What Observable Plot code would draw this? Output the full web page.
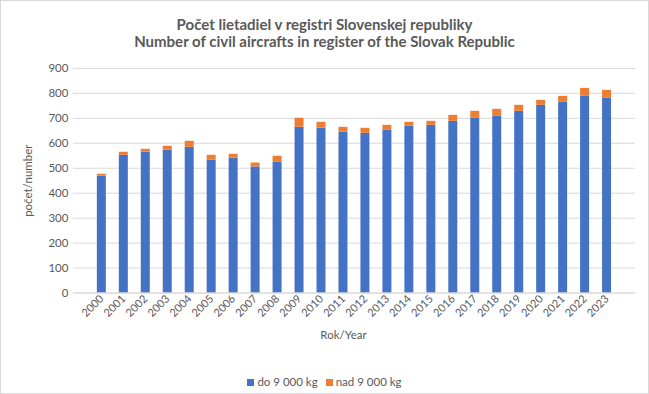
<!DOCTYPE html>
<html>
<head>
<meta charset="utf-8">
<script src="https://cdn.jsdelivr.net/npm/d3@7"></script>
<script src="https://cdn.jsdelivr.net/npm/@observablehq/plot@0.6"></script>
<style>
  body { margin: 0; background: #fff; }
  #wrap { position: relative; width: 649px; height: 394px; box-sizing: border-box; border: 1px solid #d9d9d9; font-family: Lato, "Open Sans", sans-serif; overflow: hidden; }
  #chart { position: absolute; left: -1px; top: -1px; }
  .title { position: absolute; left: -1px; width: 649px; text-align: center; font-weight: bold; font-size: 15px; line-height: 18px; color: #595959; }
  #legend { position: absolute; top: 374px; left: -1px; width: 649px; text-align: center; font-size: 11.5px; color: #595959; }
  #legend span.sw { display: inline-block; width: 7px; height: 7px; margin-right: 3px; vertical-align: 0px; }
  #legend span.it { margin: 0 4px; }
</style>
</head>
<body>
<div id="wrap">
  <div id="chart"></div>
  <div class="title" style="top:14px">Počet lietadiel v registri Slovenskej republiky</div>
  <div class="title" style="top:31px">Number of civil aircrafts in register of the Slovak Republic</div>
  <div id="legend"></div>
</div>
<script>
const years = ["2000","2001","2002","2003","2004","2005","2006","2007","2008","2009","2010","2011","2012","2013","2014","2015","2016","2017","2018","2019","2020","2021","2022","2023"];
const under9000 = [468,552,564,572,584,532,540,505,524,664,660,644,640,652,668,672,688,700,708,728,752,764,788,780];
const over9000 = [8,12,12,16,24,20,16,16,24,36,24,20,20,20,16,16,24,28,28,24,20,24,32,32];
const seriesNames = ["do 9 000 kg","nad 9 000 kg"];
const seriesColors = ["#4472C4","#ED7D31"];
const yTicks = [0,100,200,300,400,500,600,700,800,900];

const data = [];
years.forEach((y, i) => {
  data.push({year: y, series: seriesNames[0], value: under9000[i]});
  data.push({year: y, series: seriesNames[1], value: over9000[i]});
});

const plot = Plot.plot({
  width: 649,
  height: 394,
  marginTop: 68,
  marginBottom: 101,
  marginLeft: 73,
  marginRight: 13,
  style: {fontFamily: "Lato, 'Open Sans', sans-serif", fontSize: "11px", color: "#595959", background: "transparent"},
  x: {domain: years, padding: 0.57},
  y: {domain: [0, 900]},
  color: {domain: seriesNames, range: seriesColors},
  marks: [
    Plot.gridY(yTicks, {stroke: "#d9d9d9", strokeOpacity: 1, strokeWidth: 1}),
    Plot.barY(data, {x: "year", y: "value", fill: "series", order: null}),
    Plot.ruleY([0], {stroke: "#d9d9d9"}),
    Plot.axisY(yTicks, {label: "počet/number", labelAnchor: "center", labelArrow: "none", labelOffset: 50, tickSize: 0, tickPadding: 5, fontSize: 11.5, fill: "#595959"}),
    Plot.axisX({label: null, tickSize: 0, tickPadding: 4, tickRotate: -45, fontSize: 11, fill: "#595959"}),
    Plot.text(["Rok/Year"], {frameAnchor: "bottom", dy: 46, dx: -11, fontSize: 11.5, fill: "#595959"})
  ]
});
document.getElementById("chart").appendChild(plot);

const legend = document.getElementById("legend");
seriesNames.forEach((n, i) => {
  const it = document.createElement("span");
  it.className = "it";
  it.innerHTML = `<span class="sw" style="background:${seriesColors[i]}"></span>${n}`;
  legend.appendChild(it);
});
</script>
</body>
</html>
